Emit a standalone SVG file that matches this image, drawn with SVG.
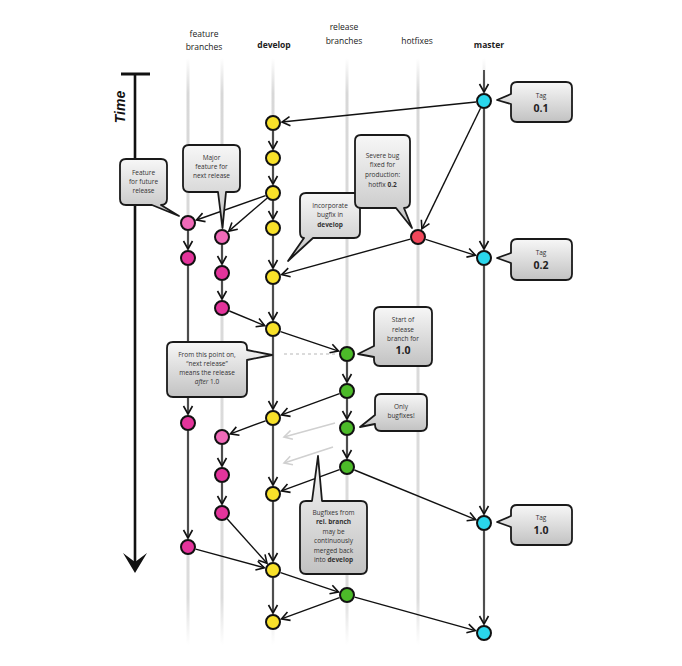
<svg xmlns="http://www.w3.org/2000/svg" width="682" height="666" viewBox="0 0 682 666">
<style>
.lane{stroke:url(#laneg);stroke-width:3;fill:none}
.hdr{font-family:"Open Sans","Liberation Sans",sans-serif;font-size:8.5px;fill:#222;text-anchor:middle}
.b{font-weight:bold}
.c{stroke:#111;stroke-width:1.4;fill:none;marker-end:url(#ah)}
.cg{stroke:#d0d0d0;stroke-width:1.6;fill:none;marker-end:url(#ahg)}
.n{stroke:#111;stroke-width:2}
.dev{fill:#f8e12a}
.f1{fill:#f06ab8}
.f2{fill:#e3349b}
.rel{fill:#4cba29}
.hot{fill:#f0475a}
.mas{fill:#2ad6ec}
.co{fill:url(#cog);stroke:#1a1a1a;stroke-width:1.8;stroke-linejoin:round}
.t{font-family:"Open Sans","Liberation Sans",sans-serif;font-size:6.5px;fill:#333;text-anchor:middle}
.tb{font-family:"Open Sans","Liberation Sans",sans-serif;font-size:10.5px;font-weight:bold;fill:#222;text-anchor:middle}
</style>
<defs>
<linearGradient id="laneg" gradientUnits="userSpaceOnUse" x1="0" y1="58" x2="0" y2="645">
<stop offset="0" stop-color="#d8d8d8" stop-opacity="0"/>
<stop offset="0.06" stop-color="#d8d8d8"/>
<stop offset="0.92" stop-color="#dcdcdc"/>
<stop offset="1" stop-color="#e0e0e0" stop-opacity="0"/>
</linearGradient>
<linearGradient id="cog" x1="0" y1="0" x2="0" y2="1">
<stop offset="0" stop-color="#f7f7f7"/>
<stop offset="1" stop-color="#c2c2c2"/>
</linearGradient>
<marker id="ah" markerWidth="12" markerHeight="12" refX="10" refY="6" orient="auto" markerUnits="userSpaceOnUse">
<path d="M2,1.5 L10,6 L2,10.5" fill="none" stroke="#111" stroke-width="1.6"/>
</marker>
<marker id="ahg" markerWidth="12" markerHeight="12" refX="10" refY="6" orient="auto" markerUnits="userSpaceOnUse">
<path d="M2,1.5 L10,6 L2,10.5" fill="none" stroke="#d0d0d0" stroke-width="1.6"/>
</marker>
</defs>
<rect width="682" height="666" fill="#fff"/>

<g id="lanes">
<line class="lane" x1="188" y1="58" x2="188" y2="645"/>
<line class="lane" x1="222" y1="58" x2="222" y2="645"/>
<line class="lane" x1="273" y1="58" x2="273" y2="645"/>
<line class="lane" x1="347" y1="58" x2="347" y2="645"/>
<line class="lane" x1="418" y1="58" x2="418" y2="645"/>
<line class="lane" x1="484" y1="58" x2="484" y2="645"/>
</g>

<g id="headers">
<text class="hdr" x="204" y="37">feature</text>
<text class="hdr" x="204" y="50">branches</text>
<text class="hdr b" x="274" y="48">develop</text>
<text class="hdr" x="344" y="30">release</text>
<text class="hdr" x="344" y="44">branches</text>
<text class="hdr" x="417" y="44">hotfixes</text>
<text class="hdr b" x="489" y="48">master</text>
</g>

<g id="time">
<line x1="121" y1="74" x2="150" y2="74" stroke="#111" stroke-width="3"/>
<line x1="135" y1="74" x2="135" y2="564" stroke="#111" stroke-width="2.6"/>
<path d="M123,553 L135,573 L147,553 L135,562 Z" fill="#111"/>
<text transform="translate(125,107) rotate(-90)" font-family="Liberation Sans, Arial, sans-serif" font-size="14" font-weight="bold" font-style="italic" fill="#111" text-anchor="middle">Time</text>
</g>

<g id="connectors">
<line x1="284" y1="354" x2="336" y2="354" stroke="#d0d0d0" stroke-width="1.4" stroke-dasharray="3,3"/>
<line class="cg" x1="335" y1="423" x2="284" y2="437"/>
<line class="cg" x1="333" y1="447" x2="284" y2="463"/>
<line class="c" x1="484" y1="70" x2="484" y2="92"/>
<line class="c" x1="273" y1="131" x2="273" y2="149"/>
<line class="c" x1="273" y1="166" x2="273" y2="184"/>
<line class="c" x1="273" y1="201" x2="273" y2="219"/>
<line class="c" x1="273" y1="236" x2="273" y2="268"/>
<line class="c" x1="273" y1="285" x2="273" y2="320"/>
<line class="c" x1="273" y1="337" x2="273" y2="409"/>
<line class="c" x1="273" y1="426" x2="273" y2="485"/>
<line class="c" x1="273" y1="502" x2="273" y2="561"/>
<line class="c" x1="273" y1="578" x2="273" y2="613"/>
<line class="c" x1="188" y1="231" x2="188" y2="249"/>
<line class="c" x1="188" y1="266" x2="188" y2="414"/>
<line class="c" x1="188" y1="431" x2="188" y2="538"/>
<line class="c" x1="222" y1="245" x2="222" y2="264"/>
<line class="c" x1="222" y1="281" x2="222" y2="299"/>
<line class="c" x1="222" y1="445" x2="222" y2="466"/>
<line class="c" x1="222" y1="483" x2="222" y2="504"/>
<line class="c" x1="347" y1="362" x2="347" y2="382"/>
<line class="c" x1="347" y1="399" x2="347" y2="419"/>
<line class="c" x1="347" y1="436" x2="347" y2="458"/>
<line class="c" x1="484" y1="109" x2="484" y2="249"/>
<line class="c" x1="484" y1="266" x2="484" y2="514"/>
<line class="c" x1="484" y1="531" x2="484" y2="624"/>
<line class="c" x1="476" y1="102" x2="282" y2="122"/>
<line class="c" x1="480.5" y1="108.2" x2="421.9" y2="228.9"/>
<line class="c" x1="425.6" y1="239.4" x2="475.4" y2="255.3"/>
<line class="c" x1="410.3" y1="239.1" x2="281.7" y2="274.6"/>
<line class="c" x1="265.5" y1="195.7" x2="196.5" y2="220"/>
<line class="c" x1="267" y1="198.2" x2="228.8" y2="231.1"/>
<line class="c" x1="229.4" y1="311" x2="264.7" y2="325.6"/>
<line class="c" x1="280.6" y1="331.6" x2="338.5" y2="351.1"/>
<line class="c" x1="339.5" y1="393.7" x2="281.5" y2="414.9"/>
<line class="c" x1="265.5" y1="420.8" x2="230.4" y2="433.9"/>
<line class="c" x1="339.5" y1="469.7" x2="281.5" y2="490.9"/>
<line class="c" x1="354.4" y1="470" x2="475.7" y2="519.6"/>
<line class="c" x1="227.3" y1="519" x2="267" y2="563.3"/>
<line class="c" x1="195.7" y1="549.1" x2="264.3" y2="567.7"/>
<line class="c" x1="280.6" y1="572.6" x2="338.5" y2="592.1"/>
<line class="c" x1="339.5" y1="597.7" x2="281.5" y2="618.9"/>
<line class="c" x1="354.7" y1="597.1" x2="475.3" y2="630.6"/>
</g>

<g id="develop-nodes">
<circle class="n dev" cx="273" cy="123" r="7"/>
<circle class="n dev" cx="273" cy="158" r="7"/>
<circle class="n dev" cx="273" cy="193" r="7"/>
<circle class="n dev" cx="273" cy="228" r="7"/>
<circle class="n dev" cx="273" cy="277" r="7"/>
<circle class="n dev" cx="273" cy="329" r="7"/>
<circle class="n dev" cx="273" cy="418" r="7"/>
<circle class="n dev" cx="273" cy="494" r="7"/>
<circle class="n dev" cx="273" cy="570" r="7"/>
<circle class="n dev" cx="273" cy="622" r="7"/>
</g>
<g id="feature-nodes">
<circle class="n f1" cx="188" cy="223" r="7"/>
<circle class="n f2" cx="188" cy="258" r="7"/>
<circle class="n f2" cx="188" cy="423" r="7"/>
<circle class="n f2" cx="188" cy="547" r="7"/>
<circle class="n f1" cx="222" cy="237" r="7"/>
<circle class="n f2" cx="222" cy="273" r="7"/>
<circle class="n f2" cx="222" cy="308" r="7"/>
<circle class="n f1" cx="222" cy="437" r="7"/>
<circle class="n f2" cx="222" cy="475" r="7"/>
<circle class="n f2" cx="222" cy="513" r="7"/>
</g>
<g id="release-nodes">
<circle class="n rel" cx="347" cy="354" r="7"/>
<circle class="n rel" cx="347" cy="391" r="7"/>
<circle class="n rel" cx="347" cy="428" r="7"/>
<circle class="n rel" cx="347" cy="467" r="7"/>
<circle class="n rel" cx="347" cy="595" r="7"/>
</g>
<g id="hotfix-nodes">
<circle class="n hot" cx="418" cy="237" r="7"/>
</g>
<g id="master-nodes">
<circle class="n mas" cx="484" cy="101" r="7"/>
<circle class="n mas" cx="484" cy="258" r="7"/>
<circle class="n mas" cx="484" cy="523" r="7"/>
<circle class="n mas" cx="484" cy="633" r="7"/>
</g>

<g id="callout-feature-future">
<path class="co" d="M126,159 H161 Q167,159 167,165 V199 Q167,205 161,205 L179,216 L152,205 H126 Q120,205 120,199 V165 Q120,159 126,159 Z"/>
<text class="t" x="143.5" y="175">Feature</text>
<text class="t" x="143.5" y="184">for future</text>
<text class="t" x="143.5" y="193">release</text>
</g>
<g id="callout-major-feature">
<path class="co" d="M189,145 H234 Q240,145 240,151 V186 Q240,192 234,192 H226 L222.5,228 L218,192 H189 Q183,192 183,186 V151 Q183,145 189,145 Z"/>
<text class="t" x="211.5" y="160">Major</text>
<text class="t" x="211.5" y="169">feature for</text>
<text class="t" x="211.5" y="178">next release</text>
</g>
<g id="callout-incorporate">
<path class="co" d="M306,193 H354 Q360,193 360,199 V232 Q360,238 354,238 H313 L288,261 L304,238 Q300,238 300,232 V199 Q300,193 306,193 Z"/>
<text class="t" x="330" y="208">Incorporate</text>
<text class="t" x="330" y="217">bugfix in</text>
<text class="t b" x="330" y="227">develop</text>
</g>
<g id="callout-severe-bug">
<path class="co" d="M361,135 H404 Q410,135 410,141 V202 Q410,208 404,208 L412,228 L396,208 H361 Q355,208 355,202 V141 Q355,135 361,135 Z"/>
<text class="t" x="382.5" y="158">Severe bug</text>
<text class="t" x="382.5" y="167">fixed for</text>
<text class="t" x="382.5" y="177">production:</text>
<text class="t" x="382.5" y="187">hotfix <tspan font-weight="bold">0.2</tspan></text>
</g>
<g id="callout-tag-01">
<path class="co" d="M517,82 H566 Q572,82 572,88 V116 Q572,122 566,122 H517 Q511,122 511,116 V104 L497,100 L511,94 V88 Q511,82 517,82 Z"/>
<text class="t" x="541" y="98">Tag</text>
<text class="tb" x="541" y="112">0.1</text>
</g>
<g id="callout-tag-02">
<path class="co" d="M517,239 H566 Q572,239 572,245 V274 Q572,280 566,280 H517 Q511,280 511,274 V263 L497,258 L511,253 V245 Q511,239 517,239 Z"/>
<text class="t" x="541" y="255">Tag</text>
<text class="tb" x="541" y="269">0.2</text>
</g>
<g id="callout-tag-10">
<path class="co" d="M517,505 H566 Q572,505 572,511 V539 Q572,545 566,545 H517 Q511,545 511,539 V527 L497,522 L511,516 V511 Q511,505 517,505 Z"/>
<text class="t" x="541" y="520">Tag</text>
<text class="tb" x="541" y="534">1.0</text>
</g>
<g id="callout-start-release">
<path class="co" d="M380,307 H426 Q432,307 432,313 V360 Q432,366 426,366 H380 Q374,366 374,360 V357 L358,354 L374,346 V313 Q374,307 380,307 Z"/>
<text class="t" x="403" y="322">Start of</text>
<text class="t" x="403" y="332">release</text>
<text class="t" x="403" y="341">branch for</text>
<text class="tb" x="403" y="354" font-size="9px">1.0</text>
</g>
<g id="callout-only-bugfixes">
<path class="co" d="M381,394 H421 Q427,394 427,400 V425 Q427,431 421,431 H381 Q375,431 375,425 V424 L360,427 L375,415 V400 Q375,394 381,394 Z"/>
<text class="t" x="401" y="409">Only</text>
<text class="t" x="401" y="418">bugfixes!</text>
</g>
<g id="callout-next-release">
<path class="co" d="M173,342 H241 Q247,342 247,348 V350 L272,355 L247,360 V391 Q247,397 241,397 H173 Q167,397 167,391 V348 Q167,342 173,342 Z"/>
<text class="t" x="207" y="357">From this point on,</text>
<text class="t" x="207" y="366">“next release”</text>
<text class="t" x="207" y="375">means the release</text>
<text class="t" x="207" y="384"><tspan font-style="italic">after</tspan> 1.0</text>
</g>
<g id="callout-bugfixes-merge">
<path class="co" d="M306,501 H312 L318,456 L322,501 H361 Q367,501 367,507 V568 Q367,574 361,574 H306 Q300,574 300,568 V507 Q300,501 306,501 Z"/>
<text class="t" x="333.5" y="515">Bugfixes from</text>
<text class="t b" x="333.5" y="524">rel. branch</text>
<text class="t" x="333.5" y="534">may be</text>
<text class="t" x="333.5" y="543">continuously</text>
<text class="t" x="333.5" y="553">merged back</text>
<text class="t" x="333.5" y="562">into <tspan font-weight="bold">develop</tspan></text>
</g>
</svg>
